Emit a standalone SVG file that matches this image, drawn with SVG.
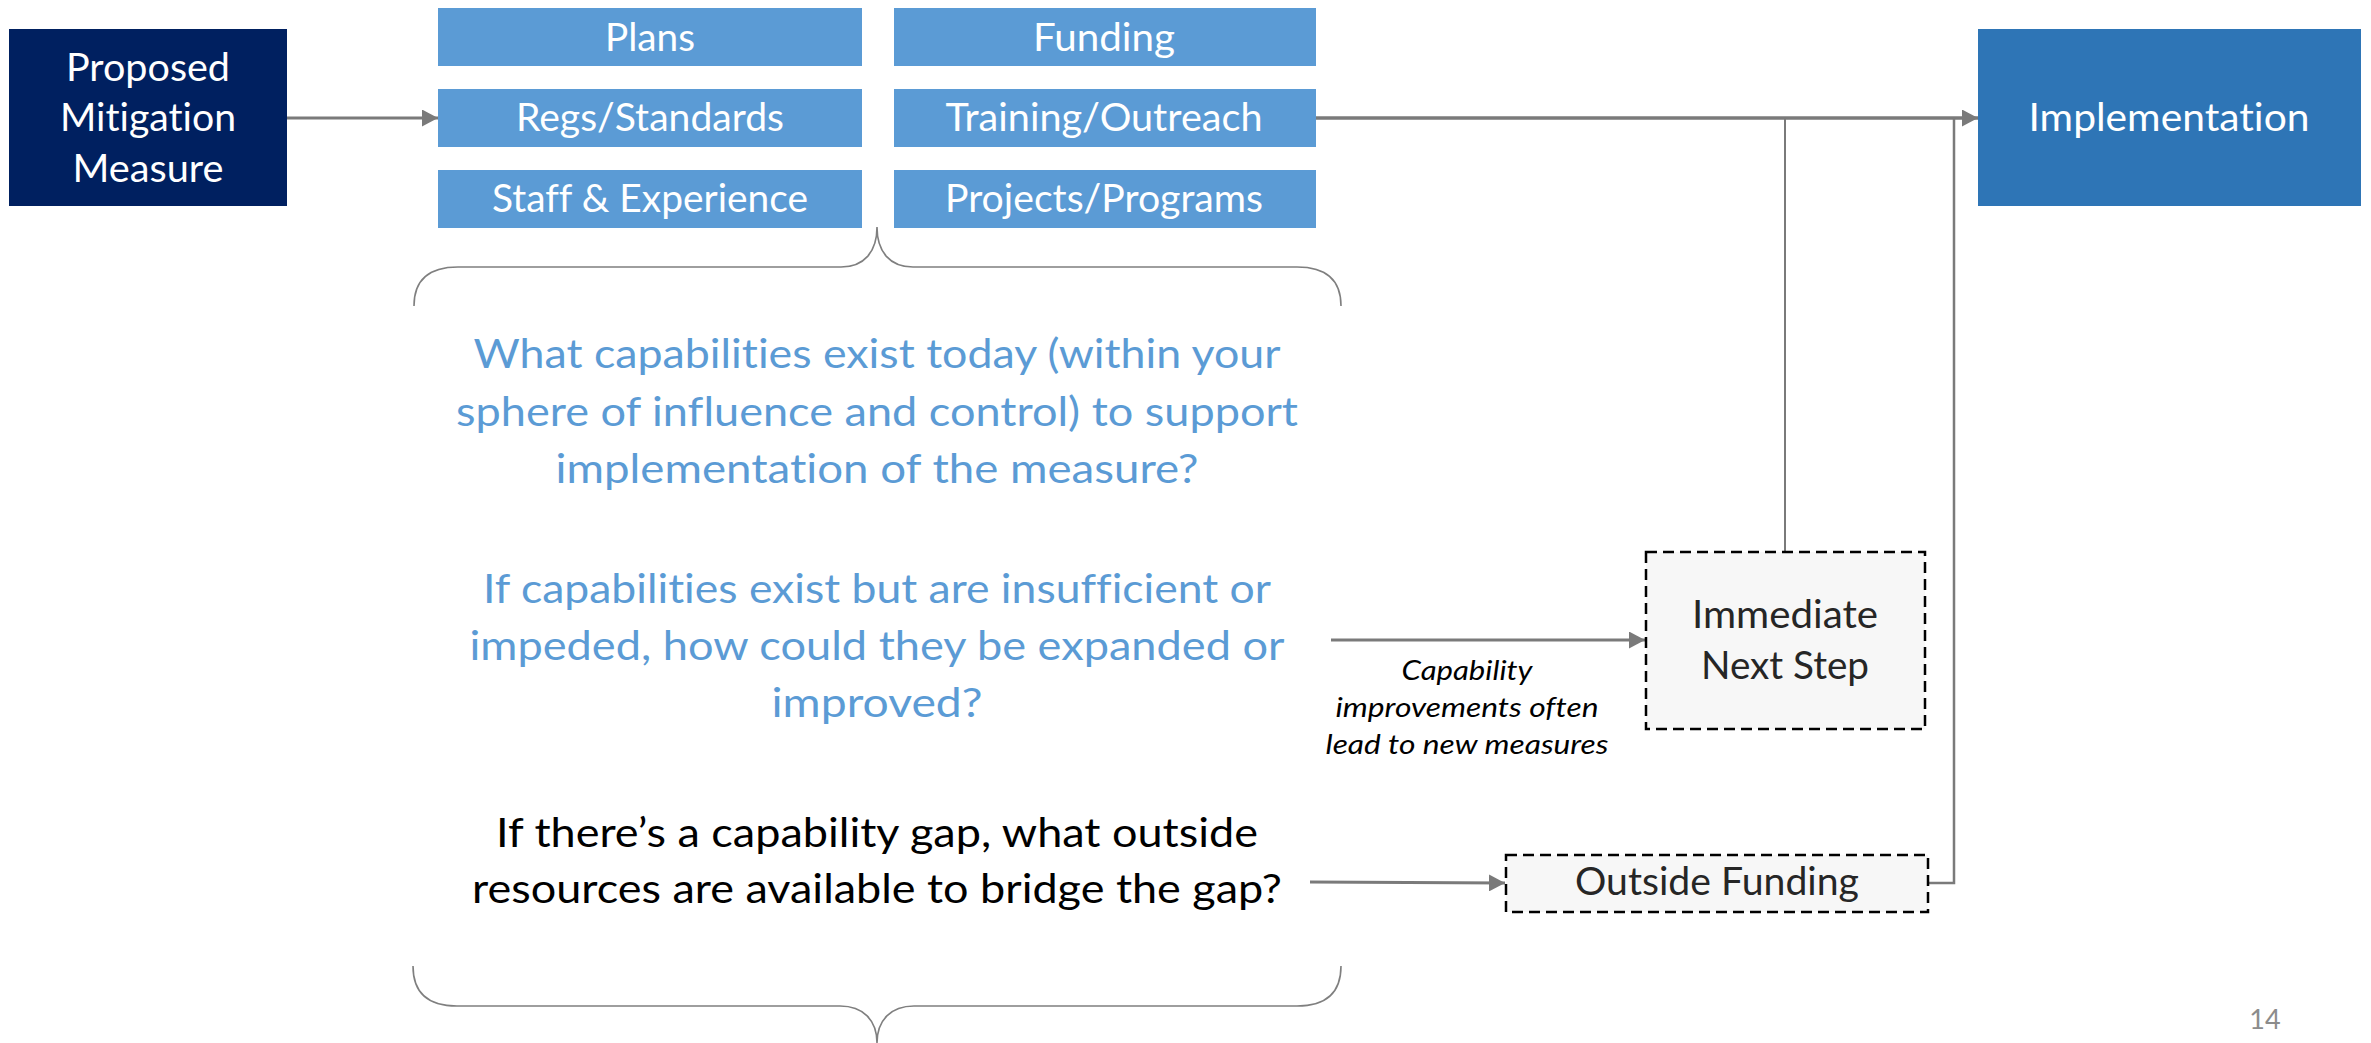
<svg xmlns="http://www.w3.org/2000/svg" width="2371" height="1043" viewBox="0 0 2371 1043">
  <style>
    text { font-family: Lato, "Open Sans", "Liberation Sans", sans-serif; text-anchor: middle; font-variant-ligatures: none; font-feature-settings: "liga" 0, "clig" 0; }
    .lbl { fill: #ffffff; font-size: 38px; }
    .cap { fill: #5b9bd5; }
    .q { fill: #5b9bd5; font-size: 41px; }
    .qb { fill: #000000; font-size: 40px; }
    .note { fill: #000000; font-size: 27px; font-style: italic; }
    .step { fill: #262626; font-size: 38px; }
    .dash { fill: #f7f7f7; stroke: #000000; stroke-width: 2.5; stroke-dasharray: 11 6; }
    .conn { fill: none; stroke: #7a7a7a; }
    .brace { fill: none; stroke: #7f7f7f; stroke-width: 1.6; }
  </style>
  <defs>
    <marker id="arrow" markerUnits="userSpaceOnUse" markerWidth="16" markerHeight="17" refX="16" refY="8.5" orient="auto">
      <path d="M0,0 L16,8.5 L0,17 Z" fill="#7a7a7a"/>
    </marker>
  </defs>

  <rect width="2371" height="1043" fill="#ffffff"/>

  <!-- connectors -->
  <g id="connectors">
    <line class="conn" x1="287" y1="118" x2="438" y2="118" stroke-width="3" marker-end="url(#arrow)"/>
    <line class="conn" x1="1316" y1="118" x2="1978" y2="118" stroke-width="3.5" marker-end="url(#arrow)"/>
    <polyline class="conn" points="1785,552 1785,118" stroke-width="2"/>
    <polyline class="conn" points="1929,883 1954,883 1954,118" stroke-width="2.5"/>
    <line class="conn" x1="1331" y1="640" x2="1645" y2="640" stroke-width="3" marker-end="url(#arrow)"/>
    <line class="conn" x1="1310" y1="882" x2="1505" y2="883" stroke-width="3" marker-end="url(#arrow)"/>
  </g>

  <g id="proposed">
    <rect x="9" y="29" width="278" height="177" fill="#002060"/>
    <text class="lbl" x="148" y="81" textLength="164" lengthAdjust="spacingAndGlyphs">Proposed</text>
    <text class="lbl" x="148" y="131" textLength="176" lengthAdjust="spacingAndGlyphs">Mitigation</text>
    <text class="lbl" x="148" y="182" textLength="151" lengthAdjust="spacingAndGlyphs">Measure</text>
  </g>

  <g id="plans">
    <rect class="cap" x="438" y="8" width="424" height="58"/>
    <text class="lbl" x="650" y="51" textLength="90" lengthAdjust="spacingAndGlyphs">Plans</text>
  </g>
  <g id="regs">
    <rect class="cap" x="438" y="89" width="424" height="58"/>
    <text class="lbl" x="650" y="131" textLength="268" lengthAdjust="spacingAndGlyphs">Regs/Standards</text>
  </g>
  <g id="staff">
    <rect class="cap" x="438" y="170" width="424" height="58"/>
    <text class="lbl" x="650" y="212" textLength="316" lengthAdjust="spacingAndGlyphs">Staff &amp; Experience</text>
  </g>
  <g id="funding">
    <rect class="cap" x="894" y="8" width="422" height="58"/>
    <text class="lbl" x="1104" y="51" textLength="142" lengthAdjust="spacingAndGlyphs">Funding</text>
  </g>
  <g id="training">
    <rect class="cap" x="894" y="89" width="422" height="58"/>
    <text class="lbl" x="1104" y="131" textLength="317" lengthAdjust="spacingAndGlyphs">Training/Outreach</text>
  </g>
  <g id="projects">
    <rect class="cap" x="894" y="170" width="422" height="58"/>
    <text class="lbl" x="1104" y="212" textLength="318" lengthAdjust="spacingAndGlyphs">Projects/Programs</text>
  </g>

  <g id="implementation">
    <rect x="1978" y="29" width="383" height="177" fill="#2e75b6"/>
    <text class="lbl" x="2169" y="131" textLength="281" lengthAdjust="spacingAndGlyphs">Implementation</text>
  </g>

  <!-- curly braces around the question block -->
  <g id="braces">
    <path class="brace" d="M414,306 C414,282 426,267 458,267 L841,267 C864,267 877,252 877,227 C877,252 890,267 913,267 L1297,267 C1329,267 1341,282 1341,306"/>
    <path class="brace" d="M413,966 C413,990 425,1006 457,1006 L840,1006 C863,1006 877,1020 877,1043 C877,1020 891,1006 914,1006 L1297,1006 C1329,1006 1341,990 1341,966"/>
  </g>

  <g id="question-existing">
    <text class="q" x="877" y="368" textLength="807" lengthAdjust="spacingAndGlyphs">What capabilities exist today (within your</text>
    <text class="q" x="877" y="426" textLength="842" lengthAdjust="spacingAndGlyphs">sphere of influence and control) to support</text>
    <text class="q" x="877" y="483" textLength="643" lengthAdjust="spacingAndGlyphs">implementation of the measure?</text>
  </g>

  <g id="question-improve">
    <text class="q" x="877" y="603" textLength="788" lengthAdjust="spacingAndGlyphs">If capabilities exist but are insufficient or</text>
    <text class="q" x="877" y="660" textLength="815" lengthAdjust="spacingAndGlyphs">impeded, how could they be expanded or</text>
    <text class="q" x="877" y="717" textLength="211" lengthAdjust="spacingAndGlyphs">improved?</text>
  </g>

  <g id="question-gap">
    <text class="qb" x="877" y="847" textLength="762" lengthAdjust="spacingAndGlyphs">If there’s a capability gap, what outside</text>
    <text class="qb" x="877" y="903" textLength="810" lengthAdjust="spacingAndGlyphs">resources are available to bridge the gap?</text>
  </g>

  <g id="note">
    <text class="note" x="1467" y="680" textLength="131" lengthAdjust="spacingAndGlyphs">Capability</text>
    <text class="note" x="1467" y="717" textLength="263" lengthAdjust="spacingAndGlyphs">improvements often</text>
    <text class="note" x="1467" y="754" textLength="283" lengthAdjust="spacingAndGlyphs">lead to new measures</text>
  </g>

  <g id="immediate-next-step">
    <rect class="dash" x="1646" y="552" width="279" height="177"/>
    <text class="step" x="1785" y="628" textLength="186" lengthAdjust="spacingAndGlyphs">Immediate</text>
    <text class="step" x="1785" y="679" textLength="168" lengthAdjust="spacingAndGlyphs">Next Step</text>
  </g>

  <g id="outside-funding">
    <rect class="dash" x="1506" y="855" width="422" height="57"/>
    <text class="step" x="1717" y="895" textLength="284" lengthAdjust="spacingAndGlyphs">Outside Funding</text>
  </g>

  <text x="2265" y="1029" font-size="27" fill="#8c8c8c">14</text>
</svg>
